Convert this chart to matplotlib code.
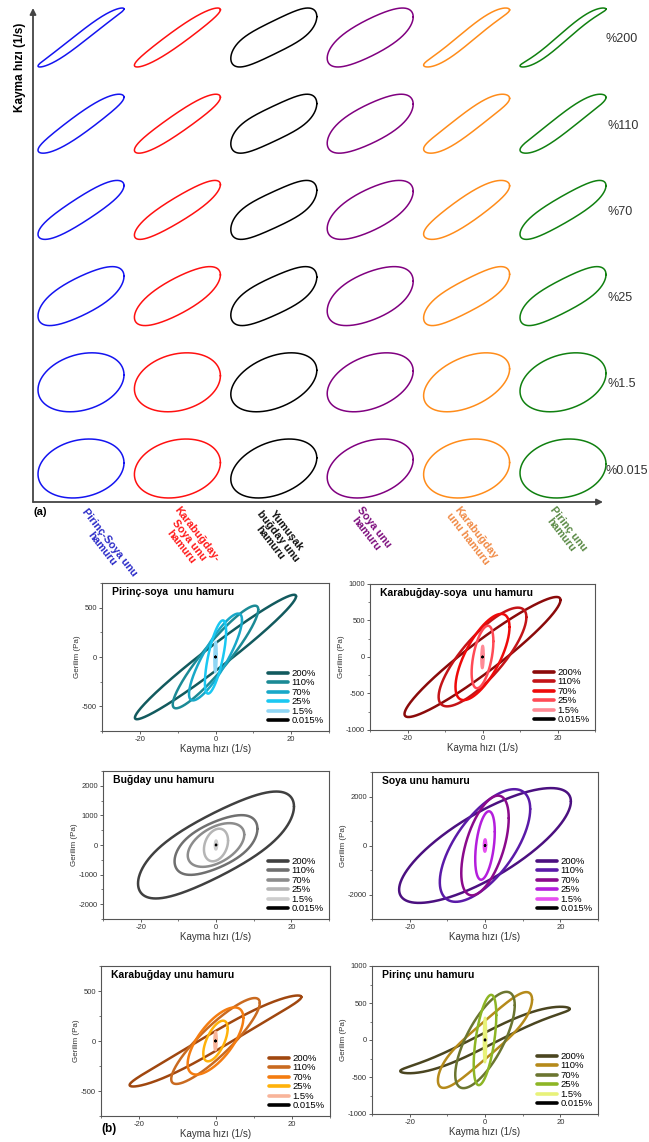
import numpy as np
import matplotlib.pyplot as plt
from matplotlib.ticker import MultipleLocator

plt.rcParams['font.family'] = ['Liberation Sans', 'DejaVu Sans']
plt.rcParams['axes.unicode_minus'] = False

W, H = 649, 1142

# ---------------- (a) normalised loops, rows from bottom to top ----------------
row_labels = ['%0.015', '%1.5', '%25', '%70', '%110', '%200']
col_names = ['Pirinç-Soya unu\nhamuru', 'Karabuğday-\nSoya unu\nhamuru',
             'Yumuşak\nbuğday unu\nhamuru', 'Soya unu\nhamuru',
             'Karabuğday\nunu hamuru', 'Pirinç unu\nhamuru']
loop_colors = ['#1414f0', '#ff1010', '#000000', '#800080', '#ff8c1a', '#108010']
name_colors = ['#2b2bc8', '#ff1a1a', '#111111', '#7d0f7d', '#f08a45', '#5a8a45']

# in-phase (viscous) and out-of-phase (elastic) parts, one row per dough
visc_a = [
    [0.19, 0.25, 0.68, 0.86, 0.92, 0.97],
    [0.20, 0.22, 0.73, 0.86, 0.90, 0.93],
    [0.36, 0.40, 0.65, 0.68, 0.70, 0.72],
    [0.30, 0.38, 0.50, 0.62, 0.66, 0.70],
    [0.20, 0.45, 0.72, 0.82, 0.87, 0.95],
    [0.15, 0.30, 0.72, 0.80, 0.90, 0.96],
]
elast_a = [
    [0.98, 0.95, 0.72, 0.50, 0.39, 0.20],
    [0.98, 0.96, 0.68, 0.48, 0.38, 0.30],
    [0.93, 0.90, 0.72, 0.70, 0.68, 0.64],
    [0.95, 0.92, 0.85, 0.75, 0.72, 0.68],
    [0.97, 0.88, 0.60, 0.50, 0.40, 0.25],
    [0.98, 0.95, 0.62, 0.50, 0.35, 0.17],
]
# third harmonics (in-phase / out-of-phase)
visc3_a = [
    [0, 0, 0, -0.02, -0.03, -0.04],
    [0, 0, 0, 0, -0.02, -0.02],
    [0, 0, 0, 0, 0, 0],
    [0, 0, 0, 0, 0, 0],
    [0, 0, 0, -0.03, -0.05, -0.06],
    [0, 0, 0, 0, -0.05, -0.07],
]
elast3_a = [
    [0, 0, 0.03, 0.02, 0, 0],
    [0, 0, 0.02, 0.02, 0.01, 0],
    [0, 0, 0.05, 0.06, 0.06, 0.06],
    [0, 0, 0.02, 0.02, 0.03, 0.03],
    [0, 0, 0.04, 0, 0, 0],
    [0, 0, 0.04, 0.03, 0, 0],
]

# ---------------- (b) stress vs shear-rate loops ----------------
strain_labels = ['200%', '110%', '70%', '25%', '1.5%', '0.015%']

ps_rate = [21.3, 11.3, 7.0, 2.8, 0.3, 0.02]
ps_visc = [615, 480, 375, 260, 30, 1]
ps_elast = [140, 200, 230, 265, 150, 3]
ps_colors = ['#125a5e', '#1b8a95', '#18a8c8', '#1ac8f2', '#8fd6f4', '#000000']

ks_rate = [20.8, 11.7, 7.2, 2.9, 0.3, 0.02]
ks_visc = [780, 545, 410, 215, 30, 1]
ks_elast = [260, 400, 425, 370, 150, 3]
ks_colors = ['#8b0a0a', '#c41418', '#ee0a0a', '#ff4a55', '#ff8a95', '#000000']

b_rate = [20.7, 11.0, 7.5, 3.2, 0.3, 0.02]
b_visc = [1300, 550, 350, 150, 20, 2]
b_elast = [1180, 835, 650, 530, 150, 6]
b_elast3 = [60, 30, 0, 0, 0, 0]
b_colors = ['#404040', '#6f6f6f', '#8c8c8c', '#b5b5b5', '#cdcdcd', '#000000']

s_rate = [22.8, 12.0, 6.3, 2.6, 0.3, 0.02]
s_visc = [1800, 1490, 1120, 560, 30, 2]
s_elast = [1500, 1750, 1700, 1280, 250, 6]
s_colors = ['#4b1080', '#5a1aa8', '#8b0a8b', '#b41edc', '#e64ff0', '#000000']

k_rate = [22.5, 11.6, 7.3, 3.2, 0.3, 0.02]
k_visc = [455, 380, 230, 125, 15, 1]
k_elast = [100, 200, 245, 160, 90, 3]
k_visc3 = [-15, 0, 0, 0, 0, 0]
k_colors = ['#a0470f', '#c96a20', '#f47c10', '#ffb20a', '#f8b49a', '#000000']

p_rate = [22.5, 12.5, 7.9, 3.0, 0.3, 0.02]
p_visc = [460, 545, 470, 335, 20, 1]
p_elast = [100, 290, 450, 510, 300, 4]
p_visc3 = [-40, 0, 0, 0, 0, 0]
p_elast3 = [0, 30, 0, 0, 0, 0]
p_colors = ['#4a4520', '#b58a1a', '#6b7530', '#8db525', '#e8f27a', '#000000']

t = np.linspace(0, 2 * np.pi, 600)


def lissajous(rate, visc, elast, visc3=0.0, elast3=0.0):
    x = rate * np.cos(t)
    y = (visc * np.cos(t) + elast * np.sin(t)
         + visc3 * np.cos(3 * t) + elast3 * np.sin(3 * t))
    return x, y


def px_axes(left, top, right, bottom):
    return fig.add_axes([left / W, 1 - bottom / H, (right - left) / W, (bottom - top) / H])


fig = plt.figure(figsize=(W / 100, H / 100), dpi=100)

# ---- part (a) ----
col_px0, col_step = 81, 96.4
row_px0, row_step = 468.5, 86.2
ax_a = px_axes(33, 8, 603, 502)
ax_a.set_xlim((33 - col_px0) / col_step, (603 - col_px0) / col_step)
ax_a.set_ylim((row_px0 - 502) / row_step, (row_px0 - 8) / row_step)
ax_a.axis('off')

half_w, half_h = 0.446, 0.342
for i in range(6):
    for j in range(6):
        x, y = lissajous(1.0, visc_a[i][j], elast_a[i][j], visc3_a[i][j], elast3_a[i][j])
        y = y / np.abs(y).max()
        ax_a.plot(i + half_w * x, j + half_h * y, color=loop_colors[i], lw=1.1, clip_on=False)

arrow = dict(arrowstyle='-|>', color='#444444', lw=1.3, mutation_scale=9, shrinkA=0, shrinkB=0)
ax_a.annotate('', xy=(0, 1.0), xytext=(0, 0), xycoords='axes fraction', arrowprops=arrow)
ax_a.annotate('', xy=(1.0, 0), xytext=(0, 0), xycoords='axes fraction', arrowprops=arrow)

fig.text(20 / W, 1 - 67.5 / H, 'Kayma hızı (1/s)', rotation=90, ha='center', va='center',
         fontsize=8.5, fontweight='bold')

row_label_x = [606, 607, 608, 608, 608, 605]
for j, lab in enumerate(row_labels):
    fig.text(row_label_x[j] / W, 1 - (row_px0 - row_step * j + 2) / H, lab,
             ha='left', va='center', fontsize=9, color='#333333')

name_anchor = [(88, 507), (180, 505), (271, 503), (363, 505), (460, 505), (556, 505)]
for (nx, ny), name, c in zip(name_anchor, col_names, name_colors):
    fig.text(nx / W, 1 - ny / H, name, rotation=-52, rotation_mode='anchor',
             ha='left', va='top', multialignment='center', linespacing=1.0,
             fontsize=7.8, fontweight='bold', color=c)

fig.text(33 / W, 1 - 512 / H, '(a)', ha='left', va='center', fontsize=8, fontweight='bold')

# ---- part (b) ----
zeros = [0, 0, 0, 0, 0, 0]
panels = [
    ('Pirinç-soya  unu hamuru', ps_rate, ps_visc, ps_elast, zeros, zeros, ps_colors,
     750, 500, (102, 583, 329, 731)),
    ('Karabuğday-soya  unu hamuru', ks_rate, ks_visc, ks_elast, zeros, zeros, ks_colors,
     1000, 500, (370, 584, 595, 730)),
    ('Buğday unu hamuru', b_rate, b_visc, b_elast, zeros, b_elast3, b_colors,
     2500, 1000, (103, 771, 329, 919)),
    ('Soya unu hamuru', s_rate, s_visc, s_elast, zeros, zeros, s_colors,
     3000, 2000, (372, 772, 598, 919)),
    ('Karabuğday unu hamuru', k_rate, k_visc, k_elast, k_visc3, zeros, k_colors,
     750, 500, (101, 966, 330, 1116)),
    ('Pirinç unu hamuru', p_rate, p_visc, p_elast, p_visc3, p_elast3, p_colors,
     1000, 500, (372, 966, 598, 1114)),
]

for title, rate, visc, elast, v3, e3, colors, ylim, ystep, box in panels:
    ax = px_axes(*box)
    for k in range(6):
        x, y = lissajous(rate[k], visc[k], elast[k], v3[k], e3[k])
        ax.plot(x, y, color=colors[k], lw=1.8, label=strain_labels[k],
                solid_capstyle='round')
    ax.set_xlim(-30, 30)
    ax.set_ylim(-ylim, ylim)
    ax.xaxis.set_major_locator(MultipleLocator(20))
    ax.xaxis.set_minor_locator(MultipleLocator(10))
    ax.yaxis.set_major_locator(MultipleLocator(ystep))
    ax.yaxis.set_minor_locator(MultipleLocator(ystep / 2))
    ax.tick_params(which='major', labelsize=5.5, length=2, width=0.6, pad=1.5,
                   colors='#444444', labelcolor='#333333')
    ax.tick_params(which='minor', length=1.2, width=0.5, colors='#444444')
    for s in ax.spines.values():
        s.set_color('#555555')
        s.set_linewidth(0.8)
    ax.set_xlabel('Kayma hızı (1/s)', fontsize=7, labelpad=1, color='#333333')
    ax.set_ylabel('Gerilim (Pa)', fontsize=5.8, labelpad=1, color='#333333')
    ax.text(0.045, 0.975, title, transform=ax.transAxes, ha='left', va='top',
            fontsize=7.5, fontweight='bold')
    leg = ax.legend(loc='lower right', frameon=False, fontsize=6.8, handlelength=2.2,
                    handletextpad=0.3, labelspacing=0.05, borderaxespad=0.2)
    for line in leg.get_lines():
        line.set_linewidth(2.6)

fig.text(101 / W, 1 - 1129 / H, '(b)', ha='left', va='center', fontsize=8.5, fontweight='bold')

fig.savefig('out.png', dpi=100)
